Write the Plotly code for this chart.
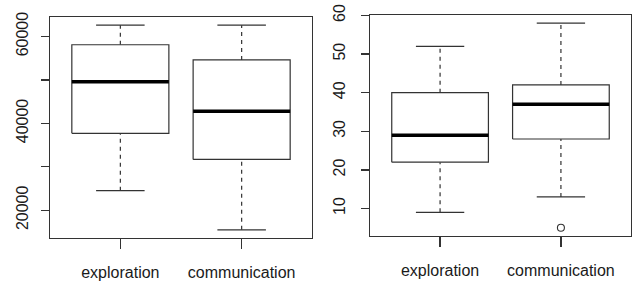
import plotly.graph_objects as go

categories = ["exploration", "communication"]

# Panel 1 (left) five-number summaries
left_lower = [24500, 15500]
left_q1 = [37700, 31700]
left_median = [49600, 42800]
left_q3 = [58100, 54600]
left_upper = [62600, 62600]
left_outliers = [[], []]
left_ticks = [20000, 30000, 40000, 50000, 60000]
left_ticktext = ["20000", "", "40000", "", "60000"]

# Panel 2 (right)
right_lower = [9, 13]
right_q1 = [22, 28]
right_median = [29, 37]
right_q3 = [40, 42]
right_upper = [52, 58]
right_outliers = [[], [5]]
right_ticks = [10, 20, 30, 40, 50, 60]
right_ticktext = ["10", "20", "30", "40", "50", "60"]

LINE = "#333333"
FONT = dict(family="Liberation Sans, Arial, sans-serif", size=16, color="#1a1a1a")

fig = go.Figure()


def add_panel(xa, ya, lower, q1, med, q3, upper, outl):
    xs = list(range(1, len(categories) + 1))
    hw = 0.4
    cw = 0.2
    for i, c in enumerate(xs):
        # dashed whiskers
        fig.add_trace(go.Scatter(
            x=[c, c, None, c, c], y=[lower[i], q1[i], None, q3[i], upper[i]],
            mode="lines", line=dict(color=LINE, width=1.2, dash="4px,4px"),
            xaxis=xa, yaxis=ya, showlegend=False, hoverinfo="skip"))
        # caps
        fig.add_trace(go.Scatter(
            x=[c - cw, c + cw, None, c - cw, c + cw],
            y=[lower[i], lower[i], None, upper[i], upper[i]],
            mode="lines", line=dict(color=LINE, width=1.2),
            xaxis=xa, yaxis=ya, showlegend=False, hoverinfo="skip"))
        # box
        fig.add_trace(go.Scatter(
            x=[c - hw, c + hw, c + hw, c - hw, c - hw],
            y=[q1[i], q1[i], q3[i], q3[i], q1[i]],
            mode="lines", fill="toself", fillcolor="white",
            line=dict(color=LINE, width=1.2),
            xaxis=xa, yaxis=ya, showlegend=False, hoverinfo="skip"))
        # median
        fig.add_trace(go.Scatter(
            x=[c - hw, c + hw], y=[med[i], med[i]],
            mode="lines", line=dict(color="black", width=3.5),
            xaxis=xa, yaxis=ya, showlegend=False, hoverinfo="skip"))
        if outl[i]:
            fig.add_trace(go.Scatter(
                x=[c] * len(outl[i]), y=outl[i], mode="markers",
                marker=dict(symbol="circle-open", size=7, color=LINE,
                            line=dict(width=1.1)),
                xaxis=xa, yaxis=ya, showlegend=False, hoverinfo="skip"))


add_panel("x", "y", left_lower, left_q1, left_median, left_q3, left_upper, left_outliers)
add_panel("x2", "y2", right_lower, right_q1, right_median, right_q3, right_upper, right_outliers)


def yrange(lower, upper, outl):
    vals = lower + upper + [v for o in outl for v in o]
    lo, hi = min(vals), max(vals)
    pad = (hi - lo) * 0.04
    return [lo - pad, hi + pad]


axis_common = dict(showline=True, linecolor=LINE, linewidth=1.2, mirror=True,
                   showgrid=False, zeroline=False, ticks="outside",
                   tickcolor=LINE, tickwidth=1.2, tickfont=FONT,
                   automargin=False)

xcommon = dict(axis_common, range=[0.42, 2.58], tickvals=[1, 2],
               ticktext=categories, ticklen=10, ticklabelstandoff=10)

fig.update_layout(
    template="none",
    width=635, height=284,
    margin=dict(l=0, r=0, t=0, b=0),
    paper_bgcolor="white", plot_bgcolor="white",
    xaxis=dict(xcommon, domain=[50 / 635, 312 / 635], anchor="y"),
    xaxis2=dict(xcommon, domain=[370 / 635, 631 / 635], anchor="y2"),
    yaxis=dict(axis_common, domain=[46 / 284, 267 / 284], anchor="x",
               range=yrange(left_lower, left_upper, left_outliers),
               tickvals=left_ticks, ticktext=left_ticktext, tickangle=-90,
               ticklen=8, ticklabelstandoff=6),
    yaxis2=dict(axis_common, domain=[48 / 284, 269 / 284], anchor="x2",
                range=yrange(right_lower, right_upper, right_outliers),
                tickvals=right_ticks, ticktext=right_ticktext, tickangle=-90,
                ticklen=8, ticklabelstandoff=9),
)

fig.write_html("out.html",
               config={"displayModeBar": False, "staticPlot": True},
               post_script="document.body.style.margin='0px';document.body.style.overflow='hidden';")
